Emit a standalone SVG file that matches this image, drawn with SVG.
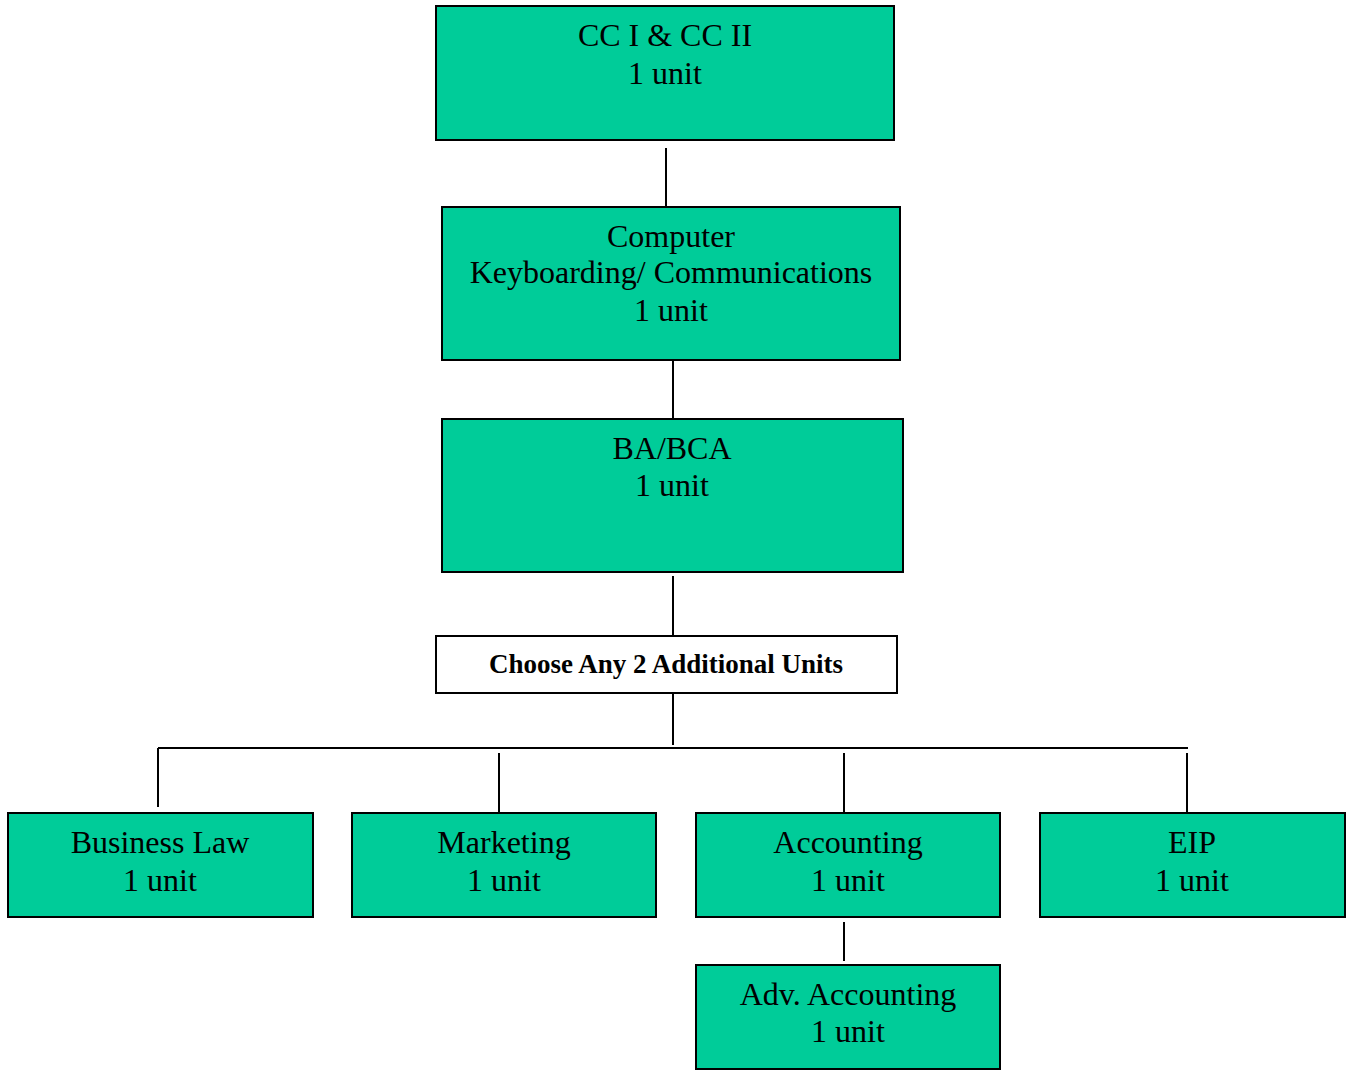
<svg xmlns="http://www.w3.org/2000/svg" width="1351" height="1072" viewBox="0 0 1351 1072">
<style>
.box{fill:#00CC99;stroke:#000;stroke-width:2}
.wbox{fill:#fff;stroke:#000;stroke-width:2}
.t{font-family:"Liberation Serif","Times New Roman",serif;font-size:32px;text-anchor:middle;fill:#000}
.b{font-family:"Liberation Serif","Times New Roman",serif;font-size:27px;font-weight:bold;text-anchor:middle;fill:#000}
.c{stroke:#000;stroke-width:2;fill:none}
</style>
<rect width="1351" height="1072" fill="#fff"/>
<g id="connectors">
<line class="c" x1="666" y1="148" x2="666" y2="206"/>
<line class="c" x1="673" y1="361" x2="673" y2="418"/>
<line class="c" x1="673" y1="576" x2="673" y2="635"/>
<line class="c" x1="673" y1="694" x2="673" y2="745"/>
<line class="c" x1="158" y1="748" x2="1188" y2="748"/>
<line class="c" x1="158" y1="748" x2="158" y2="807"/>
<line class="c" x1="499" y1="753" x2="499" y2="812"/>
<line class="c" x1="844" y1="753" x2="844" y2="812"/>
<line class="c" x1="1187" y1="753" x2="1187" y2="812"/>
<line class="c" x1="844" y1="922" x2="844" y2="961"/>
</g>
<g id="cc">
<rect class="box" x="436" y="6" width="458" height="134"/>
<text class="t" x="665" y="46">CC I &amp; CC II</text>
<text class="t" x="665" y="84">1 unit</text>
</g>
<g id="computer">
<rect class="box" x="442" y="207" width="458" height="153"/>
<text class="t" x="671" y="247">Computer</text>
<text class="t" x="671" y="283">Keyboarding/ Communications</text>
<text class="t" x="671" y="321">1 unit</text>
</g>
<g id="babca">
<rect class="box" x="442" y="419" width="461" height="153"/>
<text class="t" x="672" y="459">BA/BCA</text>
<text class="t" x="672" y="496">1 unit</text>
</g>
<g id="choose">
<rect class="wbox" x="436" y="636" width="461" height="57"/>
<text class="b" x="666" y="673">Choose Any 2 Additional Units</text>
</g>
<g id="business-law">
<rect class="box" x="8" y="813" width="305" height="104"/>
<text class="t" x="160" y="853">Business Law</text>
<text class="t" x="160" y="891">1 unit</text>
</g>
<g id="marketing">
<rect class="box" x="352" y="813" width="304" height="104"/>
<text class="t" x="504" y="853">Marketing</text>
<text class="t" x="504" y="891">1 unit</text>
</g>
<g id="accounting">
<rect class="box" x="696" y="813" width="304" height="104"/>
<text class="t" x="848" y="853">Accounting</text>
<text class="t" x="848" y="891">1 unit</text>
</g>
<g id="eip">
<rect class="box" x="1040" y="813" width="305" height="104"/>
<text class="t" x="1192" y="853">EIP</text>
<text class="t" x="1192" y="891">1 unit</text>
</g>
<g id="adv-accounting">
<rect class="box" x="696" y="965" width="304" height="104"/>
<text class="t" x="848" y="1005">Adv. Accounting</text>
<text class="t" x="848" y="1042">1 unit</text>
</g>
</svg>
